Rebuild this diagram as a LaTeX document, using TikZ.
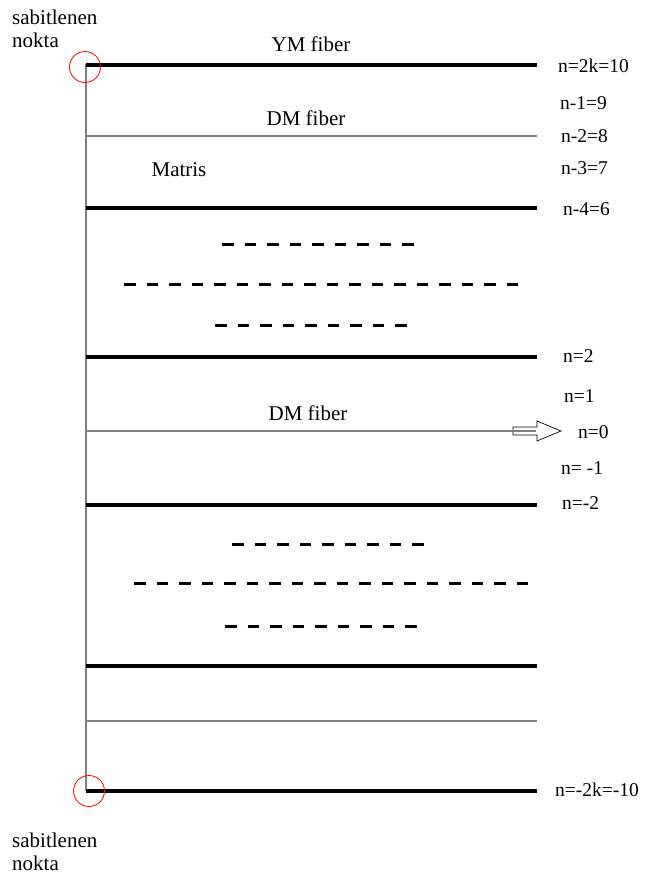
\documentclass[tikz,border=0pt]{standalone}
\usepackage{fontspec}
\setmainfont{Liberation Serif}
\begin{document}
\begin{tikzpicture}[x=1pt,y=-1pt,
  thickline/.style={line width=4.5pt,black},
  grayline/.style={line width=2pt,gray},
  dashrow/.style={line width=3pt,black,dash pattern=on 11.5pt off 11pt},
  lbl/.style={font=\fontsize{21}{24}\selectfont,inner sep=0pt},
  rlbl/.style={font=\fontsize{19.5}{22}\selectfont,inner sep=0pt,anchor=west},
  fixc/.style={draw=red,line width=0.8pt,circle,minimum size=31pt,inner sep=0pt}]
\useasboundingbox (0,0) rectangle (645,879);
% vertical line
\coordinate (vt) at (86,64);
\coordinate (vb) at (86,791);
\draw[line width=2pt,gray] (vt) -- (vb);
% thick lines
\foreach \y/\n in {65/a,208/b,357/c,505/d,666/e,791/f}{
  \coordinate (tl\n) at (86,\y);
  \coordinate (tr\n) at (537,\y);
  \draw[thickline] (tl\n) -- (tr\n);
}
% gray lines
\coordinate (g1l) at (86,136); \coordinate (g1r) at (537,136);
\draw[grayline] (g1l) -- (g1r);
\coordinate (g3l) at (86,721); \coordinate (g3r) at (537,721);
\draw[grayline] (g3l) -- (g3r);
% arrow at n=0
\draw[line width=0.7pt,fill=white] (513,427) -- (537,427) -- (537,421) -- (561,431) -- (537,441) -- (537,435) -- (513,435) -- cycle;
\coordinate (g2l) at (86,431); \coordinate (g2r) at (536,431);
\draw[grayline] (g2l) -- (g2r);
% dashes
\draw[dashrow] (222,244) -- (413.5,244);
\draw[dashrow] (124,284) -- (518,284);
\draw[dashrow] (215,325) -- (406.5,325);
\draw[dashrow] (232,544) -- (423.5,544);
\draw[dashrow] (134,583) -- (528,583);
\draw[dashrow] (225,626) -- (416.5,626);
% circles
\node[fixc] (c1) at (85,67) {};
\node[fixc] (c2) at (89,791) {};
% left texts
\node[lbl,anchor=west] (s1) at (12,17) {sabitlenen};
\node[lbl,anchor=west] (k1) at (12,40) {nokta};
\node[lbl,anchor=west] (s2) at (12,840) {sabitlenen};
\node[lbl,anchor=west] (k2) at (12,863) {nokta};
% fiber labels
\node[lbl] (ym) at (311,44) {YM fiber};
\node[lbl] (dm1) at (306,118) {DM fiber};
\node[lbl] (mat) at (179,170) {Matris};
\node[lbl] (dm2) at (308,413) {DM fiber};
% right labels
\node[rlbl] (r1) at (558,66) {n=2k=10};
\node[rlbl] (r2) at (560,103) {n-1=9};
\node[rlbl] (r3) at (561,136) {n-2=8};
\node[rlbl] (r4) at (561,168) {n-3=7};
\node[rlbl] (r5) at (563,209) {n-4=6};
\node[rlbl] (r6) at (563,356) {n=2};
\node[rlbl] (r7) at (564,396) {n=1};
\node[rlbl] (r8) at (578,432) {n=0};
\node[rlbl] (r9) at (561,468) {n= -1};
\node[rlbl] (r10) at (562,503) {n=-2};
\node[rlbl] (r11) at (555,790) {n=-2k=-10};
\end{tikzpicture}
\end{document}
